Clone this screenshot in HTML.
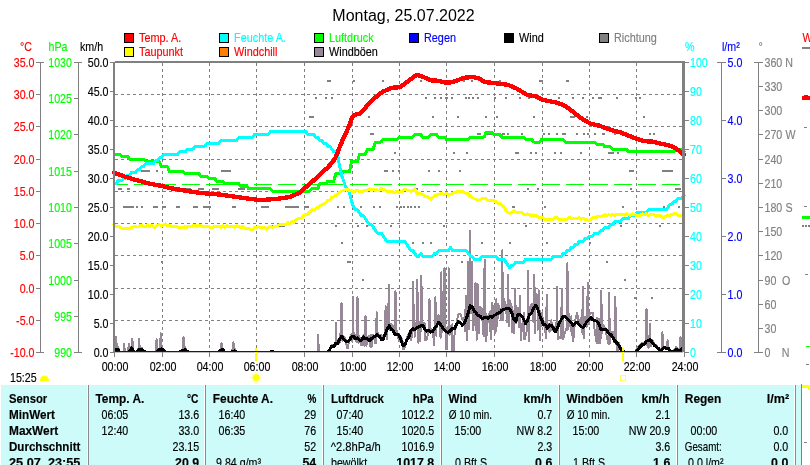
<!DOCTYPE html><html><head><meta charset="utf-8"><title>Wetter</title><style>html,body{margin:0;padding:0;background:#fff;overflow:hidden}svg{display:block;will-change:transform}text{font-family:"Liberation Sans",sans-serif;font-size:12px}.b{font-weight:bold}.e{text-anchor:end}.m{text-anchor:middle}</style></head><body>
<svg width="810" height="465" viewBox="0 0 810 465">
<rect width="810" height="465" fill="#fff"/>
<text x="403.5" y="21" class="m" style="font-size:16px">Montag, 25.07.2022</text>
<rect x="124.5" y="33.5" width="9" height="9" fill="#f00" stroke="#000" shape-rendering="crispEdges"/>
<text transform="translate(139,42) scale(0.905,1)" fill="#f00" stroke="#f00" stroke-width="0.15">Temp. A.</text>
<rect x="124.5" y="47.5" width="9" height="9" fill="#ff0" stroke="#000" shape-rendering="crispEdges"/>
<text transform="translate(139,56) scale(0.905,1)" fill="#f00" stroke="#f00" stroke-width="0.15">Taupunkt</text>
<rect x="219.5" y="33.5" width="9" height="9" fill="#0ff" stroke="#000" shape-rendering="crispEdges"/>
<text transform="translate(234,42) scale(0.905,1)" fill="#0ff" stroke="#0ff" stroke-width="0.15">Feuchte A.</text>
<rect x="219.5" y="47.5" width="9" height="9" fill="#ff8000" stroke="#000" shape-rendering="crispEdges"/>
<text transform="translate(234,56) scale(0.905,1)" fill="#f00" stroke="#f00" stroke-width="0.15">Windchill</text>
<rect x="314.5" y="33.5" width="9" height="9" fill="#0f0" stroke="#000" shape-rendering="crispEdges"/>
<text transform="translate(329,42) scale(0.905,1)" fill="#0f0" stroke="#0f0" stroke-width="0.15">Luftdruck</text>
<rect x="314.5" y="47.5" width="9" height="9" fill="#968896" stroke="#000" shape-rendering="crispEdges"/>
<text transform="translate(329,56) scale(0.905,1)" fill="#000" stroke="#000" stroke-width="0.15">Windböen</text>
<rect x="409.5" y="33.5" width="9" height="9" fill="#00f" stroke="#000" shape-rendering="crispEdges"/>
<text transform="translate(424,42) scale(0.905,1)" fill="#00f" stroke="#00f" stroke-width="0.15">Regen</text>
<rect x="504.5" y="33.5" width="9" height="9" fill="#000" stroke="#000" shape-rendering="crispEdges"/>
<text transform="translate(519,42) scale(0.905,1)" fill="#000" stroke="#000" stroke-width="0.15">Wind</text>
<rect x="599.5" y="33.5" width="9" height="9" fill="#808080" stroke="#000" shape-rendering="crispEdges"/>
<text transform="translate(614,42) scale(0.905,1)" fill="#808080" stroke="#808080" stroke-width="0.15">Richtung</text>
<g shape-rendering="crispEdges">
<line x1="162.5" y1="63" x2="162.5" y2="351" stroke="#808080" stroke-dasharray="3 3"/>
<line x1="209.5" y1="63" x2="209.5" y2="351" stroke="#808080" stroke-dasharray="3 3"/>
<line x1="256.5" y1="63" x2="256.5" y2="351" stroke="#808080" stroke-dasharray="3 3"/>
<line x1="304.5" y1="63" x2="304.5" y2="351" stroke="#808080" stroke-dasharray="3 3"/>
<line x1="352.5" y1="63" x2="352.5" y2="351" stroke="#808080" stroke-dasharray="3 3"/>
<line x1="399.5" y1="63" x2="399.5" y2="351" stroke="#808080" stroke-dasharray="3 3"/>
<line x1="446.5" y1="63" x2="446.5" y2="351" stroke="#808080" stroke-dasharray="3 3"/>
<line x1="494.5" y1="63" x2="494.5" y2="351" stroke="#808080" stroke-dasharray="3 3"/>
<line x1="542.5" y1="63" x2="542.5" y2="351" stroke="#808080" stroke-dasharray="3 3"/>
<line x1="589.5" y1="63" x2="589.5" y2="351" stroke="#808080" stroke-dasharray="3 3"/>
<line x1="636.5" y1="63" x2="636.5" y2="351" stroke="#808080" stroke-dasharray="3 3"/>
<line x1="115" y1="320.5" x2="683" y2="320.5" stroke="#808080" stroke-dasharray="3 3"/>
<line x1="115" y1="288.5" x2="683" y2="288.5" stroke="#808080" stroke-dasharray="3 3"/>
<line x1="115" y1="255.5" x2="683" y2="255.5" stroke="#808080" stroke-dasharray="3 3"/>
<line x1="115" y1="223.5" x2="683" y2="223.5" stroke="#808080" stroke-dasharray="3 3"/>
<line x1="115" y1="191.5" x2="683" y2="191.5" stroke="#808080" stroke-dasharray="3 3"/>
<line x1="115" y1="159.5" x2="683" y2="159.5" stroke="#808080" stroke-dasharray="3 3"/>
<line x1="115" y1="126.5" x2="683" y2="126.5" stroke="#808080" stroke-dasharray="3 3"/>
<line x1="115" y1="94.5" x2="683" y2="94.5" stroke="#808080" stroke-dasharray="3 3"/>
<rect x="115" y="184" width="13" height="1" fill="#0f0"/>
<rect x="134" y="184" width="18" height="1" fill="#0f0"/>
<rect x="158" y="184" width="18" height="1" fill="#0f0"/>
<rect x="182" y="184" width="18" height="1" fill="#0f0"/>
<rect x="206" y="184" width="18" height="1" fill="#0f0"/>
<rect x="230" y="184" width="18" height="1" fill="#0f0"/>
<rect x="254" y="184" width="18" height="1" fill="#0f0"/>
<rect x="278" y="184" width="18" height="1" fill="#0f0"/>
<rect x="302" y="184" width="18" height="1" fill="#0f0"/>
<rect x="326" y="184" width="18" height="1" fill="#0f0"/>
<rect x="350" y="184" width="18" height="1" fill="#0f0"/>
<rect x="374" y="184" width="18" height="1" fill="#0f0"/>
<rect x="398" y="184" width="18" height="1" fill="#0f0"/>
<rect x="422" y="184" width="18" height="1" fill="#0f0"/>
<rect x="446" y="184" width="18" height="1" fill="#0f0"/>
<rect x="470" y="184" width="18" height="1" fill="#0f0"/>
<rect x="494" y="184" width="18" height="1" fill="#0f0"/>
<rect x="518" y="184" width="18" height="1" fill="#0f0"/>
<rect x="542" y="184" width="18" height="1" fill="#0f0"/>
<rect x="566" y="184" width="18" height="1" fill="#0f0"/>
<rect x="590" y="184" width="18" height="1" fill="#0f0"/>
<rect x="614" y="184" width="18" height="1" fill="#0f0"/>
<rect x="638" y="184" width="18" height="1" fill="#0f0"/>
<rect x="662" y="184" width="18" height="1" fill="#0f0"/>
<rect x="141" y="170" width="9" height="2" fill="#808080"/>
<rect x="156" y="170" width="2" height="2" fill="#808080"/>
<rect x="221" y="170" width="10" height="2" fill="#808080"/>
<rect x="384" y="170" width="4" height="2" fill="#808080"/>
<rect x="392" y="170" width="2" height="2" fill="#808080"/>
<rect x="398" y="170" width="2" height="2" fill="#808080"/>
<rect x="428" y="170" width="2" height="2" fill="#808080"/>
<rect x="438" y="170" width="2" height="2" fill="#808080"/>
<rect x="459" y="170" width="2" height="2" fill="#808080"/>
<rect x="629" y="170" width="5" height="2" fill="#808080"/>
<rect x="662" y="170" width="11" height="2" fill="#808080"/>
<rect x="118" y="188" width="4" height="2" fill="#808080"/>
<rect x="127" y="188" width="3" height="2" fill="#808080"/>
<rect x="181" y="188" width="10" height="2" fill="#808080"/>
<rect x="198" y="188" width="6" height="2" fill="#808080"/>
<rect x="212" y="188" width="7" height="2" fill="#808080"/>
<rect x="238" y="188" width="7" height="2" fill="#808080"/>
<rect x="416" y="188" width="2" height="2" fill="#808080"/>
<rect x="527" y="188" width="2" height="2" fill="#808080"/>
<rect x="537" y="188" width="2" height="2" fill="#808080"/>
<rect x="630" y="188" width="2" height="2" fill="#808080"/>
<rect x="675" y="188" width="6" height="2" fill="#808080"/>
<rect x="123" y="206" width="11" height="2" fill="#808080"/>
<rect x="136" y="206" width="2" height="2" fill="#808080"/>
<rect x="141" y="206" width="2" height="2" fill="#808080"/>
<rect x="153" y="206" width="5" height="2" fill="#808080"/>
<rect x="162" y="206" width="4" height="2" fill="#808080"/>
<rect x="176" y="206" width="4" height="2" fill="#808080"/>
<rect x="193" y="206" width="5" height="2" fill="#808080"/>
<rect x="203" y="206" width="8" height="2" fill="#808080"/>
<rect x="232" y="206" width="4" height="2" fill="#808080"/>
<rect x="261" y="206" width="8" height="2" fill="#808080"/>
<rect x="285" y="206" width="14" height="2" fill="#808080"/>
<rect x="304" y="206" width="5" height="2" fill="#808080"/>
<rect x="337" y="206" width="2" height="2" fill="#808080"/>
<rect x="343" y="206" width="2" height="2" fill="#808080"/>
<rect x="360" y="206" width="2" height="2" fill="#808080"/>
<rect x="373" y="206" width="2" height="2" fill="#808080"/>
<rect x="379" y="206" width="2" height="2" fill="#808080"/>
<rect x="396" y="206" width="2" height="2" fill="#808080"/>
<rect x="400" y="206" width="2" height="2" fill="#808080"/>
<rect x="403" y="206" width="2" height="2" fill="#808080"/>
<rect x="407" y="206" width="2" height="2" fill="#808080"/>
<rect x="410" y="206" width="2" height="2" fill="#808080"/>
<rect x="414" y="206" width="2" height="2" fill="#808080"/>
<rect x="418" y="206" width="2" height="2" fill="#808080"/>
<rect x="512" y="206" width="3" height="2" fill="#808080"/>
<rect x="544" y="206" width="2" height="2" fill="#808080"/>
<rect x="622" y="206" width="2" height="2" fill="#808080"/>
<rect x="663" y="206" width="2" height="2" fill="#808080"/>
<rect x="678" y="206" width="2" height="2" fill="#808080"/>
<rect x="270" y="225" width="15" height="2" fill="#808080"/>
<rect x="335" y="225" width="2" height="2" fill="#808080"/>
<rect x="357" y="225" width="2" height="2" fill="#808080"/>
<rect x="366" y="225" width="2" height="2" fill="#808080"/>
<rect x="390" y="225" width="2" height="2" fill="#808080"/>
<rect x="443" y="225" width="2" height="2" fill="#808080"/>
<rect x="525" y="225" width="2" height="2" fill="#808080"/>
<rect x="620" y="225" width="2" height="2" fill="#808080"/>
<rect x="659" y="225" width="2" height="2" fill="#808080"/>
<rect x="341" y="242" width="2" height="2" fill="#808080"/>
<rect x="412" y="242" width="2" height="2" fill="#808080"/>
<rect x="422" y="242" width="2" height="2" fill="#808080"/>
<rect x="430" y="242" width="2" height="2" fill="#808080"/>
<rect x="481" y="242" width="2" height="2" fill="#808080"/>
<rect x="509" y="242" width="2" height="2" fill="#808080"/>
<rect x="546" y="242" width="2" height="2" fill="#808080"/>
<rect x="589" y="242" width="2" height="2" fill="#808080"/>
<rect x="161" y="261" width="2" height="2" fill="#808080"/>
<rect x="347" y="261" width="4" height="2" fill="#808080"/>
<rect x="461" y="261" width="2" height="2" fill="#808080"/>
<rect x="606" y="261" width="2" height="2" fill="#808080"/>
<rect x="362" y="279" width="2" height="2" fill="#808080"/>
<rect x="624" y="279" width="2" height="2" fill="#808080"/>
<rect x="356" y="297" width="2" height="2" fill="#808080"/>
<rect x="634" y="297" width="2" height="2" fill="#808080"/>
<rect x="651" y="297" width="2" height="2" fill="#808080"/>
<rect x="394" y="152" width="2" height="2" fill="#808080"/>
<rect x="453" y="152" width="2" height="2" fill="#808080"/>
<rect x="466" y="152" width="2" height="2" fill="#808080"/>
<rect x="515" y="152" width="4" height="2" fill="#808080"/>
<rect x="530" y="152" width="2" height="2" fill="#808080"/>
<rect x="535" y="152" width="2" height="2" fill="#808080"/>
<rect x="554" y="152" width="2" height="2" fill="#808080"/>
<rect x="560" y="152" width="2" height="2" fill="#808080"/>
<rect x="580" y="152" width="2" height="2" fill="#808080"/>
<rect x="608" y="152" width="6" height="2" fill="#808080"/>
<rect x="617" y="152" width="2" height="2" fill="#808080"/>
<rect x="370" y="133" width="4" height="2" fill="#808080"/>
<rect x="477" y="133" width="2" height="2" fill="#808080"/>
<rect x="479" y="133" width="2" height="2" fill="#808080"/>
<rect x="487" y="133" width="7" height="2" fill="#808080"/>
<rect x="502" y="133" width="3" height="2" fill="#808080"/>
<rect x="507" y="133" width="2" height="2" fill="#808080"/>
<rect x="521" y="133" width="2" height="2" fill="#808080"/>
<rect x="543" y="133" width="2" height="2" fill="#808080"/>
<rect x="548" y="133" width="2" height="2" fill="#808080"/>
<rect x="556" y="133" width="2" height="2" fill="#808080"/>
<rect x="562" y="133" width="4" height="2" fill="#808080"/>
<rect x="576" y="133" width="2" height="2" fill="#808080"/>
<rect x="583" y="133" width="2" height="2" fill="#808080"/>
<rect x="587" y="133" width="2" height="2" fill="#808080"/>
<rect x="594" y="133" width="2" height="2" fill="#808080"/>
<rect x="602" y="133" width="3" height="2" fill="#808080"/>
<rect x="614" y="133" width="2" height="2" fill="#808080"/>
<rect x="649" y="133" width="2" height="2" fill="#808080"/>
<rect x="653" y="133" width="2" height="2" fill="#808080"/>
<rect x="309" y="116" width="5" height="2" fill="#808080"/>
<rect x="368" y="116" width="2" height="2" fill="#808080"/>
<rect x="432" y="116" width="2" height="2" fill="#808080"/>
<rect x="457" y="116" width="2" height="2" fill="#808080"/>
<rect x="485" y="116" width="2" height="2" fill="#808080"/>
<rect x="496" y="116" width="2" height="2" fill="#808080"/>
<rect x="533" y="116" width="2" height="2" fill="#808080"/>
<rect x="570" y="116" width="5" height="2" fill="#808080"/>
<rect x="586" y="116" width="2" height="2" fill="#808080"/>
<rect x="643" y="116" width="2" height="2" fill="#808080"/>
<rect x="315" y="97" width="2" height="2" fill="#808080"/>
<rect x="325" y="97" width="2" height="2" fill="#808080"/>
<rect x="331" y="97" width="2" height="2" fill="#808080"/>
<rect x="425" y="97" width="2" height="2" fill="#808080"/>
<rect x="434" y="97" width="2" height="2" fill="#808080"/>
<rect x="440" y="97" width="2" height="2" fill="#808080"/>
<rect x="445" y="97" width="3" height="2" fill="#808080"/>
<rect x="451" y="97" width="2" height="2" fill="#808080"/>
<rect x="465" y="97" width="2" height="2" fill="#808080"/>
<rect x="468" y="97" width="2" height="2" fill="#808080"/>
<rect x="472" y="97" width="2" height="2" fill="#808080"/>
<rect x="477" y="97" width="2" height="2" fill="#808080"/>
<rect x="494" y="97" width="2" height="2" fill="#808080"/>
<rect x="505" y="97" width="2" height="2" fill="#808080"/>
<rect x="519" y="97" width="2" height="2" fill="#808080"/>
<rect x="528" y="97" width="2" height="2" fill="#808080"/>
<rect x="558" y="97" width="2" height="2" fill="#808080"/>
<rect x="572" y="97" width="2" height="2" fill="#808080"/>
<rect x="582" y="97" width="2" height="2" fill="#808080"/>
<rect x="592" y="97" width="2" height="2" fill="#808080"/>
<rect x="598" y="97" width="4" height="2" fill="#808080"/>
<rect x="616" y="97" width="2" height="2" fill="#808080"/>
<rect x="635" y="97" width="2" height="2" fill="#808080"/>
<rect x="639" y="97" width="2" height="2" fill="#808080"/>
<rect x="327" y="80" width="4" height="2" fill="#808080"/>
<rect x="353" y="80" width="2" height="2" fill="#808080"/>
<rect x="382" y="80" width="2" height="2" fill="#808080"/>
<rect x="420" y="80" width="2" height="2" fill="#808080"/>
<rect x="463" y="80" width="2" height="2" fill="#808080"/>
<rect x="471" y="80" width="2" height="2" fill="#808080"/>
<rect x="499" y="80" width="2" height="2" fill="#808080"/>
<rect x="539" y="80" width="4" height="2" fill="#808080"/>
<rect x="566" y="80" width="3" height="2" fill="#808080"/>
</g>
<clipPath id="cp"><rect x="115" y="62" width="568" height="289"/></clipPath>
<path clip-path="url(#cp)" d="M114.0 350.1 L115.0 348.4 L116.0 348.4 L116.0 337.0 L117.0 348.4 L118.0 347.2 L119.9 352.6 L121.9 352.6 L123.0 352.6 L123.9 352.6 L124.0 343.5 L125.0 352.6 L125.9 352.6 L127.9 352.6 L128.0 351.6 L129.0 343.5 L129.8 350.9 L130.0 351.6 L131.3 346.9 L131.8 345.6 L132.3 338.6 L133.3 348.7 L133.8 351.2 L135.8 352.6 L137.8 350.2 L138.3 350.1 L139.3 339.0 L139.7 350.0 L140.3 350.1 L141.7 347.6 L143.7 350.9 L145.7 352.6 L147.6 352.6 L149.6 352.6 L151.6 352.6 L153.6 352.6 L155.6 352.6 L155.6 351.4 L156.6 339.0 L157.5 350.4 L157.6 351.4 L159.5 350.5 L159.8 348.1 L160.8 333.4 L161.5 346.8 L161.8 348.1 L163.5 349.2 L165.5 352.6 L167.4 352.6 L169.4 352.6 L171.4 352.6 L173.4 352.6 L175.4 352.6 L177.3 352.6 L179.3 352.6 L181.3 350.5 L182.5 349.3 L183.3 348.8 L183.5 337.4 L184.5 348.7 L185.2 347.3 L187.2 351.2 L189.2 352.6 L191.2 352.6 L193.2 352.6 L195.1 352.6 L197.1 352.6 L199.1 352.6 L201.1 352.6 L203.1 352.6 L205.0 352.6 L207.0 352.6 L209.0 352.6 L211.0 352.6 L213.0 352.6 L214.9 352.6 L216.9 352.6 L218.9 352.6 L220.5 350.0 L220.9 350.7 L221.5 343.5 L222.5 350.0 L222.9 348.7 L224.8 352.6 L226.8 352.6 L228.8 352.6 L230.8 352.6 L232.4 349.0 L232.8 349.0 L233.4 342.0 L234.4 349.2 L234.7 349.0 L236.7 352.6 L238.7 352.6 L240.7 352.6 L242.6 352.6 L244.6 352.6 L246.6 352.6 L248.6 352.6 L250.6 352.6 L252.5 352.6 L254.5 352.6 L256.5 352.6 L258.5 352.6 L260.5 352.6 L262.4 352.6 L264.4 352.6 L266.4 352.6 L268.4 352.6 L270.4 352.6 L272.3 351.0 L274.3 352.6 L276.3 352.6 L278.3 352.6 L280.2 352.6 L282.2 352.6 L284.2 352.6 L286.2 352.6 L288.2 352.6 L290.1 352.6 L292.1 352.6 L294.1 352.6 L296.1 352.6 L298.1 352.6 L300.0 352.6 L302.0 352.6 L304.0 352.6 L306.0 352.6 L308.0 352.6 L309.9 352.6 L311.9 352.6 L313.9 352.6 L315.9 352.6 L317.0 352.6 L317.9 352.6 L318.0 334.6 L319.0 352.6 L319.8 352.6 L321.8 352.6 L323.8 352.6 L325.8 352.6 L327.8 352.6 L329.7 350.5 L331.7 344.9 L333.7 344.7 L334.7 346.9 L335.7 345.0 L335.7 322.9 L336.7 345.0 L337.6 340.2 L339.6 343.0 L340.5 333.0 L341.5 303.0 L341.6 332.4 L342.5 341.1 L343.6 336.4 L345.6 339.3 L346.9 348.0 L347.5 346.6 L347.9 348.0 L349.5 338.7 L351.5 334.0 L352.3 341.8 L353.3 297.0 L353.5 332.3 L354.3 339.2 L355.5 334.7 L356.5 341.6 L357.4 341.8 L357.5 297.0 L358.5 343.4 L359.4 336.1 L361.0 345.0 L361.4 344.4 L362.0 345.0 L363.4 335.0 L364.5 346.0 L365.4 342.5 L365.5 315.8 L366.5 345.6 L367.3 336.8 L369.3 335.9 L370.5 347.0 L371.3 334.7 L371.5 347.0 L373.3 335.0 L375.2 342.9 L375.7 343.0 L376.7 312.3 L377.2 330.3 L377.7 333.7 L379.2 335.4 L381.2 335.0 L383.2 337.0 L384.6 333.9 L385.1 329.7 L385.6 306.4 L386.6 339.4 L387.1 325.6 L388.0 320.4 L389.0 285.3 L389.1 320.1 L390.0 330.5 L391.1 323.7 L393.1 326.5 L394.5 333.8 L395.0 329.6 L395.5 291.0 L396.5 329.9 L397.0 330.9 L399.0 341.6 L401.0 336.8 L403.0 342.6 L403.2 349.0 L404.2 349.0 L404.9 346.6 L406.9 337.4 L408.9 333.0 L410.9 340.4 L412.0 336.5 L412.9 323.2 L413.0 281.8 L414.0 324.2 L414.8 336.6 L416.3 322.5 L416.8 322.7 L417.3 279.5 L418.3 342.7 L418.8 322.0 L420.3 341.2 L420.8 318.1 L421.3 276.0 L422.3 324.7 L422.8 322.6 L424.7 323.8 L425.0 340.0 L426.0 340.0 L426.7 339.5 L428.5 331.1 L428.7 326.4 L429.5 299.4 L430.5 327.8 L430.7 329.8 L432.6 329.7 L434.4 345.3 L434.6 322.1 L435.4 297.0 L436.4 335.8 L436.6 323.0 L438.6 315.1 L440.2 332.5 L440.6 337.8 L441.2 272.4 L442.2 332.5 L442.5 321.5 L443.5 326.5 L444.5 268.0 L444.5 326.6 L445.5 326.5 L446.0 349.0 L446.5 327.9 L447.0 349.0 L447.5 326.6 L448.5 326.6 L448.5 268.0 L449.5 335.1 L450.5 326.0 L452.4 324.1 L452.5 351.0 L453.5 351.0 L454.4 335.4 L456.4 323.2 L458.4 314.3 L460.4 313.7 L462.3 319.7 L464.3 317.7 L464.9 331.6 L465.9 295.9 L466.3 311.0 L466.9 339.9 L467.2 335.7 L468.2 262.0 L468.3 309.2 L469.0 315.9 L469.2 329.6 L470.0 231.0 L470.2 303.6 L471.0 304.3 L471.0 313.5 L472.0 262.0 L472.2 297.5 L473.0 330.4 L474.2 319.7 L474.5 324.7 L475.5 283.0 L476.2 302.2 L476.5 331.4 L476.6 340.1 L477.6 284.0 L478.2 308.6 L478.6 333.4 L480.1 306.8 L482.1 309.0 L483.6 336.3 L484.1 311.1 L484.6 259.5 L485.6 318.6 L486.1 340.9 L488.1 316.1 L490.0 312.3 L490.7 339.2 L491.7 303.0 L492.0 313.7 L492.7 329.3 L494.0 306.3 L495.3 333.2 L496.0 330.4 L496.3 299.4 L497.3 326.1 L498.0 303.6 L499.9 309.6 L501.2 320.6 L501.9 303.2 L502.2 250.4 L503.2 320.5 L503.9 298.8 L505.9 305.1 L507.0 321.8 L507.9 298.9 L508.0 274.8 L509.0 326.3 L509.8 300.2 L511.8 307.2 L512.3 332.0 L513.3 332.0 L513.8 316.0 L514.0 332.9 L515.0 288.8 L515.8 313.8 L516.0 322.8 L517.8 307.6 L518.8 327.2 L519.7 311.7 L519.8 295.9 L520.8 340.1 L521.7 330.1 L523.7 313.1 L524.0 339.0 L525.0 339.0 L525.7 335.4 L527.0 329.4 L527.6 316.3 L528.0 271.2 L529.0 341.6 L529.6 308.3 L531.6 303.6 L533.3 321.6 L533.6 301.2 L534.3 274.8 L535.3 332.9 L535.6 292.9 L537.5 300.2 L537.6 329.7 L538.6 290.0 L539.5 310.3 L539.6 340.4 L541.5 312.6 L543.5 320.8 L545.5 333.3 L545.8 337.9 L546.8 294.7 L547.4 321.7 L547.8 325.5 L549.4 331.8 L551.0 330.0 L551.4 320.2 L552.0 330.0 L553.4 326.5 L555.4 328.9 L556.3 331.6 L557.3 286.5 L557.3 326.3 L558.3 339.2 L559.3 336.9 L561.0 337.7 L561.3 314.4 L562.0 288.8 L563.0 339.3 L563.3 338.2 L565.2 331.6 L566.4 328.8 L567.2 330.2 L567.4 263.0 L568.4 328.8 L569.2 313.7 L570.9 331.0 L571.2 316.4 L571.9 331.0 L573.2 341.3 L575.1 320.8 L577.1 312.9 L579.1 323.0 L581.1 318.2 L582.0 332.1 L583.0 286.5 L583.1 332.5 L584.0 338.1 L585.0 316.9 L586.8 326.6 L587.0 318.7 L587.8 283.0 L588.8 323.9 L589.0 315.8 L591.0 313.3 L593.0 313.3 L594.9 332.4 L596.7 343.0 L596.9 318.1 L597.7 343.0 L598.9 318.7 L600.2 342.8 L600.9 334.3 L601.2 291.2 L602.2 332.7 L602.9 324.6 L604.8 328.0 L606.8 335.9 L608.0 342.8 L608.8 344.1 L609.0 292.4 L610.0 342.8 L610.8 331.9 L612.8 331.7 L614.3 341.9 L614.7 340.0 L615.3 297.0 L616.3 341.9 L616.7 346.7 L617.0 351.0 L618.0 351.0 L618.7 342.8 L620.7 349.5 L622.6 350.4 L624.6 352.6 L626.6 352.6 L628.6 352.6 L630.6 352.6 L632.5 352.6 L634.5 352.6 L636.5 349.3 L638.5 345.9 L640.5 344.5 L642.4 343.0 L644.4 342.5 L645.5 341.8 L646.4 339.2 L646.5 308.8 L647.5 346.4 L648.4 347.5 L649.0 346.5 L650.0 324.0 L650.4 346.3 L651.0 346.5 L652.3 339.9 L654.3 344.3 L656.3 344.7 L658.3 349.5 L660.2 349.1 L661.4 348.2 L662.2 348.2 L662.4 332.2 L663.4 348.2 L664.2 348.5 L666.2 347.3 L666.6 347.9 L667.6 340.4 L668.2 347.3 L668.6 347.3 L670.1 352.6 L672.1 352.6 L674.1 350.2 L676.1 346.8 L678.1 349.6 L679.5 348.7 L680.0 348.3 L680.5 337.0 L681.5 348.7 L682.0 350.2 L684.0 352.6" fill="none" stroke="#968896" stroke-width="2" stroke-linejoin="round" shape-rendering="crispEdges"/>
<path clip-path="url(#cp)" d="M114.0 349.6 L116.0 349.8 L118.0 349.0 L119.9 352.6 L121.9 352.6 L123.9 352.6 L125.9 352.6 L127.9 352.6 L129.8 350.9 L131.8 347.9 L133.8 351.4 L135.8 352.4 L137.8 351.4 L139.7 349.3 L141.7 349.2 L143.7 350.8 L145.7 352.6 L147.6 352.6 L149.6 352.6 L151.6 352.6 L153.6 352.6 L155.6 352.6 L157.5 351.3 L159.5 349.5 L161.5 348.9 L163.5 349.8 L165.5 352.6 L167.4 352.6 L169.4 352.6 L171.4 352.6 L173.4 352.6 L175.4 352.6 L177.3 352.6 L179.3 352.1 L181.3 351.0 L183.3 350.1 L185.2 349.7 L187.2 351.3 L189.2 352.6 L191.2 352.6 L193.2 352.6 L195.1 352.6 L197.1 352.6 L199.1 352.6 L201.1 352.6 L203.1 352.6 L205.0 352.6 L207.0 352.6 L209.0 352.6 L211.0 352.6 L213.0 352.6 L214.9 352.6 L216.9 352.6 L218.9 352.2 L220.9 350.1 L222.9 349.2 L224.8 352.4 L226.8 352.6 L228.8 352.6 L230.8 352.6 L232.8 351.2 L234.7 350.9 L236.7 352.3 L238.7 352.6 L240.7 352.6 L242.6 352.6 L244.6 352.6 L246.6 352.6 L248.6 352.6 L250.6 352.6 L252.5 352.6 L254.5 352.6 L256.5 352.6 L258.5 352.6 L260.5 352.6 L262.4 352.6 L264.4 352.6 L266.4 352.6 L268.4 352.2 L270.4 352.1 L272.3 351.0 L274.3 352.5 L276.3 352.6 L278.3 352.6 L280.2 352.6 L282.2 352.6 L284.2 352.6 L286.2 352.6 L288.2 352.6 L290.1 352.6 L292.1 352.6 L294.1 352.6 L296.1 352.6 L298.1 352.6 L300.0 352.6 L302.0 352.6 L304.0 352.6 L306.0 352.6 L308.0 352.6 L309.9 352.6 L311.9 352.6 L313.9 352.6 L315.9 352.6 L317.9 352.6 L319.8 352.6 L321.8 352.6 L323.8 352.6 L325.8 352.6 L327.8 352.3 L329.7 349.6 L331.7 346.3 L333.7 347.0 L335.7 343.2 L337.6 343.4 L339.6 339.0 L341.6 336.5 L343.6 339.0 L345.6 341.1 L347.5 341.8 L349.5 340.0 L351.5 336.8 L353.5 336.4 L355.5 338.5 L357.4 338.0 L359.4 340.1 L361.4 340.1 L363.4 337.0 L365.4 338.8 L367.3 338.9 L369.3 340.6 L371.3 338.7 L373.3 337.2 L375.2 336.3 L377.2 334.8 L379.2 336.2 L381.2 339.2 L383.2 339.3 L385.1 334.4 L387.1 329.5 L389.1 325.9 L391.1 329.2 L393.1 330.6 L395.0 334.6 L397.0 334.1 L399.0 335.1 L401.0 339.9 L403.0 345.7 L404.9 344.9 L406.9 339.9 L408.9 337.1 L410.9 331.0 L412.9 328.8 L414.8 330.0 L416.8 328.1 L418.8 326.6 L420.8 325.8 L422.8 325.2 L424.7 329.1 L426.7 331.2 L428.7 330.4 L430.7 332.1 L432.6 331.7 L434.6 328.5 L436.6 325.9 L438.6 322.2 L440.6 324.6 L442.5 327.4 L444.5 329.9 L446.5 331.9 L448.5 332.4 L450.5 330.4 L452.4 328.6 L454.4 328.6 L456.4 324.7 L458.4 321.7 L460.4 322.5 L462.3 325.3 L464.3 323.1 L466.3 318.3 L468.3 312.8 L470.2 305.6 L472.2 307.1 L474.2 311.1 L476.2 313.0 L478.2 315.8 L480.1 316.1 L482.1 318.7 L484.1 317.7 L486.1 317.8 L488.1 318.1 L490.0 316.5 L492.0 317.3 L494.0 315.5 L496.0 314.5 L498.0 313.4 L499.9 312.5 L501.9 310.0 L503.9 309.3 L505.9 308.7 L507.9 308.0 L509.8 309.0 L511.8 313.0 L513.8 319.5 L515.8 321.3 L517.8 314.3 L519.7 314.3 L521.7 315.9 L523.7 319.1 L525.7 323.7 L527.6 320.1 L529.6 314.5 L531.6 313.0 L533.6 308.3 L535.6 305.1 L537.5 308.2 L539.5 314.7 L541.5 319.4 L543.5 324.7 L545.5 324.7 L547.4 328.3 L549.4 324.8 L551.4 325.3 L553.4 328.2 L555.4 331.9 L557.3 328.3 L559.3 322.8 L561.3 319.6 L563.3 316.4 L565.2 316.8 L567.2 319.0 L569.2 320.4 L571.2 322.9 L573.2 325.4 L575.1 323.3 L577.1 322.0 L579.1 324.7 L581.1 326.6 L583.1 327.4 L585.0 324.9 L587.0 321.1 L589.0 319.5 L591.0 317.9 L593.0 320.1 L594.9 320.7 L596.9 321.3 L598.9 324.1 L600.9 329.8 L602.9 329.1 L604.8 329.1 L606.8 330.5 L608.8 333.4 L610.8 334.5 L612.8 337.4 L614.7 340.8 L616.7 342.6 L618.7 345.1 L620.7 348.9 L622.6 350.9 L624.6 352.1 L626.6 352.6 L628.6 352.6 L630.6 352.6 L632.5 352.6 L634.5 352.6 L636.5 351.1 L638.5 348.9 L640.5 346.4 L642.4 344.6 L644.4 344.0 L646.4 341.4 L648.4 340.3 L650.4 339.7 L652.3 342.8 L654.3 345.3 L656.3 346.9 L658.3 348.3 L660.2 350.8 L662.2 349.1 L664.2 347.4 L666.2 348.5 L668.2 348.2 L670.1 351.5 L672.1 351.8 L674.1 351.0 L676.1 349.4 L678.1 350.1 L680.0 350.0 L682.0 348.8 L684.0 352.0" fill="none" stroke="#000" stroke-width="3" stroke-linejoin="round" shape-rendering="crispEdges"/>
<rect x="115" y="351" width="568" height="1" fill="#00f" shape-rendering="crispEdges"/>
<path d="M114.0 154.3 L116.0 154.3 L118.0 154.3 L119.9 154.3 L121.9 156.7 L123.9 156.7 L125.9 156.7 L127.9 156.7 L129.8 159.2 L131.8 159.2 L133.8 159.2 L135.8 159.2 L137.8 159.2 L139.7 159.2 L141.7 159.2 L143.7 159.2 L145.7 161.6 L147.6 161.6 L149.6 161.6 L151.6 161.6 L153.6 161.6 L155.6 161.6 L157.5 161.6 L159.5 161.6 L161.5 166.5 L163.5 166.5 L165.5 166.5 L167.4 166.5 L169.4 171.4 L171.4 171.4 L173.4 171.4 L175.4 171.4 L177.3 171.4 L179.3 171.4 L181.3 171.4 L183.3 171.4 L185.2 173.9 L187.2 173.9 L189.2 173.9 L191.2 173.9 L193.2 173.9 L195.1 173.9 L197.1 173.9 L199.1 173.9 L201.1 176.4 L203.1 176.4 L205.0 176.4 L207.0 176.4 L209.0 178.8 L211.0 178.8 L213.0 178.8 L214.9 178.8 L216.9 181.3 L218.9 181.3 L220.9 181.3 L222.9 181.3 L224.8 183.7 L226.8 183.7 L228.8 183.7 L230.8 183.7 L232.8 183.7 L234.7 183.7 L236.7 183.7 L238.7 183.7 L240.7 186.2 L242.6 186.2 L244.6 186.2 L246.6 186.2 L248.6 188.6 L250.6 188.6 L252.5 188.6 L254.5 188.6 L256.5 188.6 L258.5 188.6 L260.5 188.6 L262.4 188.6 L264.4 188.6 L266.4 188.6 L268.4 188.6 L270.4 188.6 L272.3 191.1 L274.3 191.1 L276.3 191.1 L278.3 191.1 L280.2 191.1 L282.2 191.1 L284.2 191.1 L286.2 191.1 L288.2 191.1 L290.1 191.1 L292.1 191.1 L294.1 191.1 L296.1 191.1 L298.1 191.1 L300.0 191.1 L302.0 191.1 L304.0 191.1 L306.0 191.1 L308.0 191.1 L309.9 191.1 L311.9 188.6 L313.9 188.6 L315.9 188.6 L317.9 188.6 L319.8 183.7 L321.8 183.7 L323.8 183.7 L325.8 183.7 L327.8 181.3 L329.7 181.3 L331.7 181.3 L333.7 181.3 L335.7 173.9 L337.6 173.9 L339.6 173.9 L341.6 173.9 L343.6 171.4 L345.6 171.4 L347.5 171.4 L349.5 171.4 L351.5 161.6 L353.5 161.6 L355.5 161.6 L357.4 161.6 L359.4 154.3 L361.4 154.3 L363.4 154.3 L365.4 154.3 L367.3 149.3 L369.3 149.3 L371.3 149.3 L373.3 149.3 L375.2 142.0 L377.2 142.0 L379.2 142.0 L381.2 142.0 L383.2 139.5 L385.1 139.5 L387.1 139.5 L389.1 139.5 L391.1 139.5 L393.1 139.5 L395.0 139.5 L397.0 139.5 L399.0 137.1 L401.0 137.1 L403.0 137.1 L404.9 137.1 L406.9 137.1 L408.9 137.1 L410.9 137.1 L412.9 137.1 L414.8 134.6 L416.8 134.6 L418.8 134.6 L420.8 134.6 L422.8 137.1 L424.7 137.1 L426.7 137.1 L428.7 137.1 L430.7 134.6 L432.6 134.6 L434.6 134.6 L436.6 134.6 L438.6 137.1 L440.6 137.1 L442.5 137.1 L444.5 137.1 L446.5 139.5 L448.5 139.5 L450.5 139.5 L452.4 139.5 L454.4 139.5 L456.4 139.5 L458.4 139.5 L460.4 139.5 L462.3 139.5 L464.3 139.5 L466.3 139.5 L468.3 139.5 L470.2 137.1 L472.2 137.1 L474.2 137.1 L476.2 137.1 L478.2 137.1 L480.1 137.1 L482.1 137.1 L484.1 137.1 L486.1 132.2 L488.1 132.2 L490.0 132.2 L492.0 132.2 L494.0 134.6 L496.0 134.6 L498.0 134.6 L499.9 134.6 L501.9 137.1 L503.9 137.1 L505.9 137.1 L507.9 137.1 L509.8 137.1 L511.8 137.1 L513.8 137.1 L515.8 137.1 L517.8 137.1 L519.7 137.1 L521.7 137.1 L523.7 137.1 L525.7 139.5 L527.6 139.5 L529.6 139.5 L531.6 139.5 L533.6 142.0 L535.6 142.0 L537.5 142.0 L539.5 142.0 L541.5 139.5 L543.5 139.5 L545.5 139.5 L547.4 139.5 L549.4 139.5 L551.4 139.5 L553.4 139.5 L555.4 139.5 L557.3 139.5 L559.3 139.5 L561.3 139.5 L563.3 139.5 L565.2 142.0 L567.2 142.0 L569.2 142.0 L571.2 142.0 L573.2 142.0 L575.1 142.0 L577.1 142.0 L579.1 142.0 L581.1 142.0 L583.1 142.0 L585.0 142.0 L587.0 142.0 L589.0 142.0 L591.0 142.0 L593.0 142.0 L594.9 142.0 L596.9 144.4 L598.9 144.4 L600.9 144.4 L602.9 144.4 L604.8 146.9 L606.8 146.9 L608.8 146.9 L610.8 146.9 L612.8 149.3 L614.7 149.3 L616.7 149.3 L618.7 149.3 L620.7 149.3 L622.6 149.3 L624.6 149.3 L626.6 149.3 L628.6 151.8 L630.6 151.8 L632.5 151.8 L634.5 151.8 L636.5 151.8 L638.5 151.8 L640.5 151.8 L642.4 151.8 L644.4 151.8 L646.4 151.8 L648.4 151.8 L650.4 151.8 L652.3 151.8 L654.3 151.8 L656.3 151.8 L658.3 151.8 L660.2 151.8 L662.2 151.8 L664.2 151.8 L666.2 151.8 L668.2 151.8 L670.1 151.8 L672.1 151.8 L674.1 151.8 L676.1 149.3 L678.1 149.3 L680.0 149.3 L682.0 149.3 L684.0 151.8" fill="none" stroke="#0f0" stroke-width="3" stroke-linejoin="round" stroke-linecap="round" shape-rendering="crispEdges"/>
<path d="M114.0 183.8 L116.0 183.8 L118.0 180.9 L119.9 180.9 L121.9 180.9 L123.9 178.0 L125.9 178.0 L127.9 175.1 L129.8 175.1 L131.8 172.2 L133.8 172.2 L135.8 172.2 L137.8 169.3 L139.7 169.3 L141.7 166.4 L143.7 166.4 L145.7 163.5 L147.6 163.5 L149.6 163.5 L151.6 163.5 L153.6 163.5 L155.6 160.6 L157.5 160.6 L159.5 157.7 L161.5 157.7 L163.5 154.8 L165.5 154.8 L167.4 154.8 L169.4 154.8 L171.4 154.8 L173.4 154.8 L175.4 154.8 L177.3 154.8 L179.3 151.9 L181.3 151.9 L183.3 151.9 L185.2 151.9 L187.2 149.0 L189.2 149.0 L191.2 149.0 L193.2 149.0 L195.1 146.1 L197.1 146.1 L199.1 146.1 L201.1 146.1 L203.1 146.1 L205.0 146.1 L207.0 143.2 L209.0 143.2 L211.0 143.2 L213.0 143.2 L214.9 143.2 L216.9 143.2 L218.9 143.2 L220.9 140.3 L222.9 140.3 L224.8 140.3 L226.8 140.3 L228.8 140.3 L230.8 140.3 L232.8 140.3 L234.7 140.3 L236.7 140.3 L238.7 137.4 L240.7 137.4 L242.6 137.4 L244.6 137.4 L246.6 137.4 L248.6 137.4 L250.6 137.4 L252.5 137.4 L254.5 134.5 L256.5 134.5 L258.5 134.5 L260.5 134.5 L262.4 134.5 L264.4 134.5 L266.4 134.5 L268.4 134.5 L270.4 131.6 L272.3 131.6 L274.3 131.6 L276.3 131.6 L278.3 131.6 L280.2 131.6 L282.2 131.6 L284.2 131.6 L286.2 131.6 L288.2 131.6 L290.1 131.6 L292.1 131.6 L294.1 131.6 L296.1 131.6 L298.1 131.6 L300.0 131.6 L302.0 131.6 L304.0 131.6 L306.0 131.6 L308.0 134.5 L309.9 134.5 L311.9 134.5 L313.9 134.5 L315.9 137.4 L317.9 137.4 L319.8 140.3 L321.8 140.3 L323.8 143.2 L325.8 143.2 L327.8 146.1 L329.7 146.1 L331.7 149.0 L333.7 151.9 L335.7 151.9 L337.6 154.8 L339.6 166.4 L341.6 175.1 L343.6 180.9 L345.6 186.7 L347.5 189.6 L349.5 192.5 L351.5 201.2 L353.5 207.0 L355.5 209.9 L357.4 209.9 L359.4 212.8 L361.4 215.7 L363.4 215.7 L365.4 218.6 L367.3 221.5 L369.3 224.4 L371.3 224.4 L373.3 227.3 L375.2 230.2 L377.2 233.1 L379.2 233.1 L381.2 233.1 L383.2 236.0 L385.1 238.9 L387.1 241.8 L389.1 241.8 L391.1 241.8 L393.1 241.8 L395.0 241.8 L397.0 241.8 L399.0 241.8 L401.0 241.8 L403.0 241.8 L404.9 241.8 L406.9 244.7 L408.9 247.6 L410.9 250.5 L412.9 250.5 L414.8 253.4 L416.8 256.3 L418.8 256.3 L420.8 253.4 L422.8 256.3 L424.7 256.3 L426.7 256.3 L428.7 256.3 L430.7 256.3 L432.6 256.3 L434.6 253.4 L436.6 253.4 L438.6 250.5 L440.6 250.5 L442.5 250.5 L444.5 250.5 L446.5 250.5 L448.5 250.5 L450.5 247.6 L452.4 250.5 L454.4 250.5 L456.4 250.5 L458.4 250.5 L460.4 250.5 L462.3 250.5 L464.3 250.5 L466.3 250.5 L468.3 253.4 L470.2 256.3 L472.2 256.3 L474.2 259.2 L476.2 259.2 L478.2 259.2 L480.1 259.2 L482.1 256.3 L484.1 256.3 L486.1 256.3 L488.1 256.3 L490.0 256.3 L492.0 256.3 L494.0 256.3 L496.0 256.3 L498.0 259.2 L499.9 259.2 L501.9 259.2 L503.9 259.2 L505.9 262.1 L507.9 265.0 L509.8 267.9 L511.8 265.0 L513.8 265.0 L515.8 262.1 L517.8 262.1 L519.7 262.1 L521.7 262.1 L523.7 262.1 L525.7 259.2 L527.6 259.2 L529.6 259.2 L531.6 259.2 L533.6 259.2 L535.6 259.2 L537.5 259.2 L539.5 259.2 L541.5 259.2 L543.5 259.2 L545.5 259.2 L547.4 259.2 L549.4 259.2 L551.4 259.2 L553.4 256.3 L555.4 256.3 L557.3 256.3 L559.3 256.3 L561.3 256.3 L563.3 253.4 L565.2 253.4 L567.2 250.5 L569.2 250.5 L571.2 247.6 L573.2 247.6 L575.1 244.7 L577.1 244.7 L579.1 241.8 L581.1 241.8 L583.1 241.8 L585.0 238.9 L587.0 238.9 L589.0 236.0 L591.0 236.0 L593.0 236.0 L594.9 233.1 L596.9 233.1 L598.9 233.1 L600.9 230.2 L602.9 230.2 L604.8 227.3 L606.8 227.3 L608.8 227.3 L610.8 224.4 L612.8 224.4 L614.7 221.5 L616.7 221.5 L618.7 221.5 L620.7 221.5 L622.6 218.6 L624.6 218.6 L626.6 218.6 L628.6 218.6 L630.6 215.7 L632.5 215.7 L634.5 215.7 L636.5 212.8 L638.5 212.8 L640.5 212.8 L642.4 212.8 L644.4 212.8 L646.4 212.8 L648.4 209.9 L650.4 209.9 L652.3 209.9 L654.3 209.9 L656.3 209.9 L658.3 209.9 L660.2 209.9 L662.2 209.9 L664.2 209.9 L666.2 209.9 L668.2 207.0 L670.1 204.1 L672.1 204.1 L674.1 201.2 L676.1 201.2 L678.1 198.3 L680.0 198.3 L682.0 198.3 L684.0 195.4" fill="none" stroke="#0ff" stroke-width="3" stroke-linejoin="round" stroke-linecap="round" shape-rendering="crispEdges"/>
<path d="M114.0 224.6 L116.0 226.8 L118.0 226.7 L119.9 226.9 L121.9 228.6 L123.9 228.5 L125.9 228.9 L127.9 228.1 L129.8 229.1 L131.8 227.3 L133.8 226.9 L135.8 226.6 L137.8 227.2 L139.7 225.7 L141.7 225.2 L143.7 226.6 L145.7 226.3 L147.6 225.0 L149.6 226.5 L151.6 225.3 L153.6 227.3 L155.6 227.0 L157.5 225.1 L159.5 224.9 L161.5 225.4 L163.5 225.1 L165.5 224.0 L167.4 225.3 L169.4 225.3 L171.4 226.3 L173.4 226.5 L175.4 226.4 L177.3 226.9 L179.3 227.9 L181.3 227.5 L183.3 227.4 L185.2 226.7 L187.2 227.3 L189.2 226.0 L191.2 226.7 L193.2 225.4 L195.1 225.0 L197.1 226.3 L199.1 225.6 L201.1 225.8 L203.1 226.6 L205.0 226.0 L207.0 226.7 L209.0 226.6 L211.0 227.9 L213.0 227.4 L214.9 226.4 L216.9 226.3 L218.9 226.3 L220.9 227.4 L222.9 225.6 L224.8 227.1 L226.8 225.8 L228.8 227.0 L230.8 226.2 L232.8 226.2 L234.7 227.1 L236.7 225.8 L238.7 226.7 L240.7 227.4 L242.6 226.6 L244.6 228.4 L246.6 228.7 L248.6 228.6 L250.6 229.7 L252.5 229.8 L254.5 227.6 L256.5 227.7 L258.5 226.8 L260.5 227.8 L262.4 227.3 L264.4 227.1 L266.4 229.0 L268.4 227.7 L270.4 226.4 L272.3 227.4 L274.3 226.5 L276.3 226.4 L278.3 225.3 L280.2 224.5 L282.2 224.1 L284.2 224.8 L286.2 224.5 L288.2 222.7 L290.1 223.6 L292.1 221.1 L294.1 222.2 L296.1 219.8 L298.1 218.6 L300.0 219.0 L302.0 217.4 L304.0 215.0 L306.0 214.7 L308.0 214.1 L309.9 212.1 L311.9 209.8 L313.9 210.4 L315.9 208.8 L317.9 207.2 L319.8 205.6 L321.8 204.8 L323.8 204.1 L325.8 202.6 L327.8 200.3 L329.7 199.8 L331.7 197.4 L333.7 196.8 L335.7 195.5 L337.6 194.0 L339.6 192.2 L341.6 191.2 L343.6 190.5 L345.6 189.9 L347.5 189.3 L349.5 190.7 L351.5 190.2 L353.5 192.1 L355.5 191.0 L357.4 190.5 L359.4 192.0 L361.4 191.9 L363.4 191.0 L365.4 190.4 L367.3 190.4 L369.3 188.8 L371.3 189.7 L373.3 189.0 L375.2 190.5 L377.2 189.7 L379.2 190.3 L381.2 188.3 L383.2 189.2 L385.1 190.0 L387.1 191.4 L389.1 191.7 L391.1 191.7 L393.1 192.2 L395.0 192.3 L397.0 191.4 L399.0 192.1 L401.0 191.8 L403.0 190.8 L404.9 189.2 L406.9 189.9 L408.9 190.7 L410.9 191.3 L412.9 190.5 L414.8 188.7 L416.8 193.1 L418.8 193.2 L420.8 193.7 L422.8 194.4 L424.7 196.8 L426.7 196.4 L428.7 197.6 L430.7 199.3 L432.6 197.2 L434.6 196.2 L436.6 194.8 L438.6 195.0 L440.6 194.0 L442.5 193.7 L444.5 194.7 L446.5 193.4 L448.5 195.2 L450.5 194.5 L452.4 193.1 L454.4 192.6 L456.4 192.0 L458.4 191.3 L460.4 192.1 L462.3 191.3 L464.3 192.2 L466.3 193.3 L468.3 193.7 L470.2 196.3 L472.2 197.6 L474.2 198.7 L476.2 199.5 L478.2 200.4 L480.1 199.4 L482.1 198.7 L484.1 198.3 L486.1 198.5 L488.1 200.1 L490.0 200.4 L492.0 201.0 L494.0 200.7 L496.0 201.5 L498.0 203.7 L499.9 203.8 L501.9 205.2 L503.9 206.7 L505.9 210.4 L507.9 212.4 L509.8 213.5 L511.8 212.5 L513.8 210.8 L515.8 212.0 L517.8 212.1 L519.7 212.1 L521.7 212.2 L523.7 214.3 L525.7 214.6 L527.6 214.0 L529.6 215.3 L531.6 214.9 L533.6 216.2 L535.6 215.6 L537.5 216.4 L539.5 218.0 L541.5 217.6 L543.5 217.6 L545.5 219.7 L547.4 219.8 L549.4 219.5 L551.4 219.5 L553.4 219.0 L555.4 217.6 L557.3 217.7 L559.3 219.5 L561.3 219.3 L563.3 219.8 L565.2 219.3 L567.2 219.2 L569.2 217.3 L571.2 218.2 L573.2 218.5 L575.1 218.6 L577.1 218.4 L579.1 217.7 L581.1 219.6 L583.1 218.1 L585.0 219.7 L587.0 219.9 L589.0 220.1 L591.0 219.4 L593.0 217.5 L594.9 217.7 L596.9 216.8 L598.9 216.7 L600.9 216.8 L602.9 215.5 L604.8 214.8 L606.8 215.7 L608.8 214.5 L610.8 215.2 L612.8 214.6 L614.7 215.6 L616.7 214.5 L618.7 214.4 L620.7 214.9 L622.6 214.6 L624.6 215.3 L626.6 213.7 L628.6 215.0 L630.6 215.0 L632.5 213.8 L634.5 214.7 L636.5 215.5 L638.5 215.3 L640.5 215.2 L642.4 213.8 L644.4 214.4 L646.4 213.8 L648.4 215.6 L650.4 214.2 L652.3 214.8 L654.3 214.7 L656.3 216.1 L658.3 215.7 L660.2 215.4 L662.2 217.2 L664.2 217.5 L666.2 215.9 L668.2 215.9 L670.1 215.1 L672.1 214.7 L674.1 213.6 L676.1 213.5 L678.1 215.2 L680.0 215.7 L682.0 215.9 L684.0 215.1" fill="none" stroke="#ff0" stroke-width="3" stroke-linejoin="round" stroke-linecap="round" shape-rendering="crispEdges"/>
<path d="M114.0 172.9 L116.0 173.6 L118.0 174.3 L119.9 174.9 L121.9 175.6 L123.9 176.3 L125.9 177.0 L127.9 177.5 L129.8 178.1 L131.8 178.7 L133.8 179.3 L135.8 179.9 L137.8 180.5 L139.7 181.0 L141.7 181.5 L143.7 182.0 L145.7 182.6 L147.6 183.1 L149.6 183.6 L151.6 184.0 L153.6 184.4 L155.6 184.8 L157.5 185.1 L159.5 185.5 L161.5 185.9 L163.5 186.4 L165.5 186.9 L167.4 187.4 L169.4 187.8 L171.4 188.3 L173.4 188.7 L175.4 189.0 L177.3 189.4 L179.3 189.7 L181.3 190.0 L183.3 190.3 L185.2 190.6 L187.2 191.0 L189.2 191.3 L191.2 191.6 L193.2 191.9 L195.1 192.2 L197.1 192.5 L199.1 192.7 L201.1 192.9 L203.1 193.1 L205.0 193.3 L207.0 193.5 L209.0 193.7 L211.0 193.8 L213.0 194.0 L214.9 194.1 L216.9 194.3 L218.9 194.4 L220.9 194.7 L222.9 195.0 L224.8 195.3 L226.8 195.5 L228.8 195.8 L230.8 196.1 L232.8 196.4 L234.7 196.7 L236.7 197.0 L238.7 197.3 L240.7 197.6 L242.6 197.9 L244.6 198.2 L246.6 198.4 L248.6 198.7 L250.6 198.9 L252.5 199.1 L254.5 199.4 L256.5 199.7 L258.5 199.9 L260.5 199.8 L262.4 199.8 L264.4 199.7 L266.4 199.7 L268.4 199.5 L270.4 199.4 L272.3 199.2 L274.3 199.0 L276.3 198.9 L278.3 198.7 L280.2 198.4 L282.2 198.1 L284.2 197.8 L286.2 197.5 L288.2 197.2 L290.1 196.8 L292.1 196.0 L294.1 195.1 L296.1 194.3 L298.1 193.4 L300.0 192.3 L302.0 190.6 L304.0 188.8 L306.0 187.0 L308.0 185.2 L309.9 183.5 L311.9 181.9 L313.9 180.2 L315.9 178.6 L317.9 176.7 L319.8 174.7 L321.8 172.8 L323.8 170.9 L325.8 169.2 L327.8 167.4 L329.7 165.3 L331.7 163.1 L333.7 160.8 L335.7 157.1 L337.6 152.7 L339.6 147.3 L341.6 142.5 L343.6 137.8 L345.6 133.6 L347.5 129.6 L349.5 124.8 L351.5 118.8 L353.5 115.9 L355.5 114.7 L357.4 114.2 L359.4 113.8 L361.4 112.3 L363.4 110.0 L365.4 107.7 L367.3 105.4 L369.3 103.4 L371.3 101.5 L373.3 99.5 L375.2 97.7 L377.2 96.1 L379.2 94.5 L381.2 92.9 L383.2 91.6 L385.1 90.7 L387.1 89.9 L389.1 89.0 L391.1 88.2 L393.1 87.7 L395.0 87.5 L397.0 87.4 L399.0 87.2 L401.0 86.5 L403.0 85.1 L404.9 83.6 L406.9 82.2 L408.9 80.7 L410.9 79.2 L412.9 77.7 L414.8 76.2 L416.8 74.9 L418.8 75.4 L420.8 75.9 L422.8 76.7 L424.7 77.6 L426.7 78.5 L428.7 79.4 L430.7 80.3 L432.6 80.4 L434.6 80.5 L436.6 80.7 L438.6 80.8 L440.6 81.3 L442.5 81.9 L444.5 82.5 L446.5 82.6 L448.5 82.5 L450.5 82.4 L452.4 82.2 L454.4 81.4 L456.4 80.7 L458.4 79.9 L460.4 79.2 L462.3 78.4 L464.3 77.9 L466.3 77.6 L468.3 77.4 L470.2 77.1 L472.2 76.9 L474.2 77.2 L476.2 77.7 L478.2 78.2 L480.1 79.2 L482.1 80.5 L484.1 81.7 L486.1 82.2 L488.1 82.4 L490.0 82.6 L492.0 82.9 L494.0 83.1 L496.0 83.3 L498.0 83.6 L499.9 83.8 L501.9 84.1 L503.9 84.3 L505.9 84.5 L507.9 84.8 L509.8 85.6 L511.8 86.5 L513.8 87.4 L515.8 88.2 L517.8 89.2 L519.7 90.4 L521.7 91.6 L523.7 92.9 L525.7 94.1 L527.6 95.0 L529.6 95.3 L531.6 95.7 L533.6 96.0 L535.6 96.4 L537.5 97.2 L539.5 98.1 L541.5 99.1 L543.5 100.0 L545.5 100.4 L547.4 100.8 L549.4 101.2 L551.4 101.6 L553.4 102.0 L555.4 102.4 L557.3 103.1 L559.3 103.7 L561.3 104.4 L563.3 105.0 L565.2 106.0 L567.2 107.5 L569.2 109.0 L571.2 110.5 L573.2 111.9 L575.1 113.4 L577.1 115.0 L579.1 116.5 L581.1 118.0 L583.1 119.5 L585.0 120.6 L587.0 121.7 L589.0 122.8 L591.0 123.7 L593.0 124.2 L594.9 124.7 L596.9 125.1 L598.9 125.6 L600.9 126.3 L602.9 127.0 L604.8 127.7 L606.8 128.4 L608.8 129.1 L610.8 129.8 L612.8 130.4 L614.7 130.9 L616.7 131.4 L618.7 131.9 L620.7 132.4 L622.6 133.2 L624.6 134.0 L626.6 134.8 L628.6 135.7 L630.6 136.5 L632.5 137.3 L634.5 138.1 L636.5 138.7 L638.5 139.3 L640.5 139.9 L642.4 140.5 L644.4 141.0 L646.4 141.2 L648.4 141.4 L650.4 141.5 L652.3 141.7 L654.3 142.0 L656.3 142.5 L658.3 143.0 L660.2 143.5 L662.2 143.9 L664.2 144.4 L666.2 144.9 L668.2 145.4 L670.1 145.9 L672.1 146.4 L674.1 147.5 L676.1 148.8 L678.1 150.0 L680.0 151.6 L682.0 153.1 L684.0 154.7" fill="none" stroke="#f00" stroke-width="4.4" stroke-linejoin="round" stroke-linecap="round" shape-rendering="crispEdges"/>
<g shape-rendering="crispEdges" fill="#808080">
<rect x="115" y="61" width="570" height="2"/>
<rect x="113" y="62" width="2" height="290"/>
<rect x="682" y="62" width="3" height="290"/>
<rect x="115" y="352" width="568" height="1" fill="#c0c0c0"/>
<rect x="114" y="352" width="1" height="5"/>
<rect x="162" y="352" width="1" height="5"/>
<rect x="209" y="352" width="1" height="5"/>
<rect x="256" y="352" width="1" height="5"/>
<rect x="304" y="352" width="1" height="5"/>
<rect x="352" y="352" width="1" height="5"/>
<rect x="399" y="352" width="1" height="5"/>
<rect x="446" y="352" width="1" height="5"/>
<rect x="494" y="352" width="1" height="5"/>
<rect x="542" y="352" width="1" height="5"/>
<rect x="589" y="352" width="1" height="5"/>
<rect x="636" y="352" width="1" height="5"/>
<rect x="684" y="352" width="1" height="5"/>
<rect x="110" y="352" width="4" height="1"/>
<rect x="110" y="323" width="4" height="1"/>
<rect x="110" y="294" width="4" height="1"/>
<rect x="110" y="265" width="4" height="1"/>
<rect x="110" y="236" width="4" height="1"/>
<rect x="110" y="207" width="4" height="1"/>
<rect x="110" y="178" width="4" height="1"/>
<rect x="110" y="149" width="4" height="1"/>
<rect x="110" y="120" width="4" height="1"/>
<rect x="110" y="91" width="4" height="1"/>
<rect x="110" y="62" width="4" height="1"/>
<rect x="685" y="352" width="4" height="1"/>
<rect x="685" y="323" width="4" height="1"/>
<rect x="685" y="294" width="4" height="1"/>
<rect x="685" y="265" width="4" height="1"/>
<rect x="685" y="236" width="4" height="1"/>
<rect x="685" y="207" width="4" height="1"/>
<rect x="685" y="178" width="4" height="1"/>
<rect x="685" y="149" width="4" height="1"/>
<rect x="685" y="120" width="4" height="1"/>
<rect x="685" y="91" width="4" height="1"/>
<rect x="685" y="62" width="4" height="1"/>
<rect x="40" y="62" width="1" height="291"/>
<rect x="36" y="352" width="8" height="1"/>
<rect x="36" y="320" width="4" height="1"/>
<rect x="36" y="288" width="4" height="1"/>
<rect x="36" y="255" width="4" height="1"/>
<rect x="36" y="223" width="4" height="1"/>
<rect x="36" y="191" width="4" height="1"/>
<rect x="36" y="159" width="4" height="1"/>
<rect x="36" y="126" width="4" height="1"/>
<rect x="36" y="94" width="4" height="1"/>
<rect x="36" y="62" width="8" height="1"/>
<rect x="78" y="62" width="1" height="291"/>
<rect x="74" y="352" width="8" height="1"/>
<rect x="74" y="316" width="4" height="1"/>
<rect x="74" y="280" width="4" height="1"/>
<rect x="74" y="243" width="4" height="1"/>
<rect x="74" y="207" width="4" height="1"/>
<rect x="74" y="171" width="4" height="1"/>
<rect x="74" y="134" width="4" height="1"/>
<rect x="74" y="98" width="4" height="1"/>
<rect x="74" y="62" width="8" height="1"/>
<rect x="721" y="62" width="1" height="291"/>
<rect x="717" y="352" width="9" height="1"/>
<rect x="721" y="294" width="5" height="1"/>
<rect x="721" y="236" width="5" height="1"/>
<rect x="721" y="178" width="5" height="1"/>
<rect x="721" y="120" width="5" height="1"/>
<rect x="717" y="62" width="9" height="1"/>
<rect x="758" y="62" width="1" height="291"/>
<rect x="754" y="352" width="9" height="1"/>
<rect x="758" y="328" width="5" height="1"/>
<rect x="758" y="304" width="5" height="1"/>
<rect x="758" y="280" width="5" height="1"/>
<rect x="758" y="255" width="5" height="1"/>
<rect x="758" y="231" width="5" height="1"/>
<rect x="758" y="207" width="5" height="1"/>
<rect x="758" y="183" width="5" height="1"/>
<rect x="758" y="159" width="5" height="1"/>
<rect x="758" y="134" width="5" height="1"/>
<rect x="758" y="110" width="5" height="1"/>
<rect x="758" y="86" width="5" height="1"/>
<rect x="754" y="62" width="9" height="1"/>
</g>
<text transform="translate(34.5,357) scale(0.89,1)" fill="#f00" stroke="#f00" stroke-width="0.15" text-anchor="end">-10.0</text>
<text transform="translate(34.5,325) scale(0.89,1)" fill="#f00" stroke="#f00" stroke-width="0.15" text-anchor="end">-5.0</text>
<text transform="translate(34.5,293) scale(0.89,1)" fill="#f00" stroke="#f00" stroke-width="0.15" text-anchor="end">0.0</text>
<text transform="translate(34.5,260) scale(0.89,1)" fill="#f00" stroke="#f00" stroke-width="0.15" text-anchor="end">5.0</text>
<text transform="translate(34.5,228) scale(0.89,1)" fill="#f00" stroke="#f00" stroke-width="0.15" text-anchor="end">10.0</text>
<text transform="translate(34.5,196) scale(0.89,1)" fill="#f00" stroke="#f00" stroke-width="0.15" text-anchor="end">15.0</text>
<text transform="translate(34.5,164) scale(0.89,1)" fill="#f00" stroke="#f00" stroke-width="0.15" text-anchor="end">20.0</text>
<text transform="translate(34.5,131) scale(0.89,1)" fill="#f00" stroke="#f00" stroke-width="0.15" text-anchor="end">25.0</text>
<text transform="translate(34.5,99) scale(0.89,1)" fill="#f00" stroke="#f00" stroke-width="0.15" text-anchor="end">30.0</text>
<text transform="translate(34.5,67) scale(0.89,1)" fill="#f00" stroke="#f00" stroke-width="0.15" text-anchor="end">35.0</text>
<text transform="translate(72,357) scale(0.89,1)" fill="#0f0" stroke="#0f0" stroke-width="0.15" text-anchor="end">990</text>
<text transform="translate(72,321) scale(0.89,1)" fill="#0f0" stroke="#0f0" stroke-width="0.15" text-anchor="end">995</text>
<text transform="translate(72,285) scale(0.89,1)" fill="#0f0" stroke="#0f0" stroke-width="0.15" text-anchor="end">1000</text>
<text transform="translate(72,248) scale(0.89,1)" fill="#0f0" stroke="#0f0" stroke-width="0.15" text-anchor="end">1005</text>
<text transform="translate(72,212) scale(0.89,1)" fill="#0f0" stroke="#0f0" stroke-width="0.15" text-anchor="end">1010</text>
<text transform="translate(72,176) scale(0.89,1)" fill="#0f0" stroke="#0f0" stroke-width="0.15" text-anchor="end">1015</text>
<text transform="translate(72,139) scale(0.89,1)" fill="#0f0" stroke="#0f0" stroke-width="0.15" text-anchor="end">1020</text>
<text transform="translate(72,103) scale(0.89,1)" fill="#0f0" stroke="#0f0" stroke-width="0.15" text-anchor="end">1025</text>
<text transform="translate(72,67) scale(0.89,1)" fill="#0f0" stroke="#0f0" stroke-width="0.15" text-anchor="end">1030</text>
<text transform="translate(108.5,357) scale(0.89,1)" stroke="#000" stroke-width="0.15" text-anchor="end">0.0</text>
<text transform="translate(690,357) scale(0.89,1)" fill="#0ff" stroke="#0ff" stroke-width="0.15">0</text>
<text transform="translate(108.5,328) scale(0.89,1)" stroke="#000" stroke-width="0.15" text-anchor="end">5.0</text>
<text transform="translate(690,328) scale(0.89,1)" fill="#0ff" stroke="#0ff" stroke-width="0.15">10</text>
<text transform="translate(108.5,299) scale(0.89,1)" stroke="#000" stroke-width="0.15" text-anchor="end">10.0</text>
<text transform="translate(690,299) scale(0.89,1)" fill="#0ff" stroke="#0ff" stroke-width="0.15">20</text>
<text transform="translate(108.5,270) scale(0.89,1)" stroke="#000" stroke-width="0.15" text-anchor="end">15.0</text>
<text transform="translate(690,270) scale(0.89,1)" fill="#0ff" stroke="#0ff" stroke-width="0.15">30</text>
<text transform="translate(108.5,241) scale(0.89,1)" stroke="#000" stroke-width="0.15" text-anchor="end">20.0</text>
<text transform="translate(690,241) scale(0.89,1)" fill="#0ff" stroke="#0ff" stroke-width="0.15">40</text>
<text transform="translate(108.5,212) scale(0.89,1)" stroke="#000" stroke-width="0.15" text-anchor="end">25.0</text>
<text transform="translate(690,212) scale(0.89,1)" fill="#0ff" stroke="#0ff" stroke-width="0.15">50</text>
<text transform="translate(108.5,183) scale(0.89,1)" stroke="#000" stroke-width="0.15" text-anchor="end">30.0</text>
<text transform="translate(690,183) scale(0.89,1)" fill="#0ff" stroke="#0ff" stroke-width="0.15">60</text>
<text transform="translate(108.5,154) scale(0.89,1)" stroke="#000" stroke-width="0.15" text-anchor="end">35.0</text>
<text transform="translate(690,154) scale(0.89,1)" fill="#0ff" stroke="#0ff" stroke-width="0.15">70</text>
<text transform="translate(108.5,125) scale(0.89,1)" stroke="#000" stroke-width="0.15" text-anchor="end">40.0</text>
<text transform="translate(690,125) scale(0.89,1)" fill="#0ff" stroke="#0ff" stroke-width="0.15">80</text>
<text transform="translate(108.5,96) scale(0.89,1)" stroke="#000" stroke-width="0.15" text-anchor="end">45.0</text>
<text transform="translate(690,96) scale(0.89,1)" fill="#0ff" stroke="#0ff" stroke-width="0.15">90</text>
<text transform="translate(108.5,67) scale(0.89,1)" stroke="#000" stroke-width="0.15" text-anchor="end">50.0</text>
<text transform="translate(690,67) scale(0.89,1)" fill="#0ff" stroke="#0ff" stroke-width="0.15">100</text>
<text transform="translate(727.5,357) scale(0.89,1)" fill="#00f" stroke="#00f" stroke-width="0.15">0.0</text>
<text transform="translate(727.5,299) scale(0.89,1)" fill="#00f" stroke="#00f" stroke-width="0.15">1.0</text>
<text transform="translate(727.5,241) scale(0.89,1)" fill="#00f" stroke="#00f" stroke-width="0.15">2.0</text>
<text transform="translate(727.5,183) scale(0.89,1)" fill="#00f" stroke="#00f" stroke-width="0.15">3.0</text>
<text transform="translate(727.5,125) scale(0.89,1)" fill="#00f" stroke="#00f" stroke-width="0.15">4.0</text>
<text transform="translate(727.5,67) scale(0.89,1)" fill="#00f" stroke="#00f" stroke-width="0.15">5.0</text>
<text transform="translate(764.5,357) scale(0.89,1)" fill="#808080" stroke="#808080" stroke-width="0.15">0</text>
<text transform="translate(781.8,357) scale(0.89,1)" fill="#808080" stroke="#808080" stroke-width="0.15">N</text>
<text transform="translate(764.5,333) scale(0.89,1)" fill="#808080" stroke="#808080" stroke-width="0.15">30</text>
<text transform="translate(764.5,309) scale(0.89,1)" fill="#808080" stroke="#808080" stroke-width="0.15">60</text>
<text transform="translate(764.5,285) scale(0.89,1)" fill="#808080" stroke="#808080" stroke-width="0.15">90</text>
<text transform="translate(782.1,285) scale(0.89,1)" fill="#808080" stroke="#808080" stroke-width="0.15">O</text>
<text transform="translate(764.5,260) scale(0.89,1)" fill="#808080" stroke="#808080" stroke-width="0.15">120</text>
<text transform="translate(764.5,236) scale(0.89,1)" fill="#808080" stroke="#808080" stroke-width="0.15">150</text>
<text transform="translate(764.5,212) scale(0.89,1)" fill="#808080" stroke="#808080" stroke-width="0.15">180</text>
<text transform="translate(785.4,212) scale(0.89,1)" fill="#808080" stroke="#808080" stroke-width="0.15">S</text>
<text transform="translate(764.5,188) scale(0.89,1)" fill="#808080" stroke="#808080" stroke-width="0.15">210</text>
<text transform="translate(764.5,164) scale(0.89,1)" fill="#808080" stroke="#808080" stroke-width="0.15">240</text>
<text transform="translate(764.5,139) scale(0.89,1)" fill="#808080" stroke="#808080" stroke-width="0.15">270</text>
<text transform="translate(785.4,139) scale(0.89,1)" fill="#808080" stroke="#808080" stroke-width="0.15">W</text>
<text transform="translate(764.5,115) scale(0.89,1)" fill="#808080" stroke="#808080" stroke-width="0.15">300</text>
<text transform="translate(764.5,91) scale(0.89,1)" fill="#808080" stroke="#808080" stroke-width="0.15">330</text>
<text transform="translate(764.5,67) scale(0.89,1)" fill="#808080" stroke="#808080" stroke-width="0.15">360</text>
<text transform="translate(785.2,67) scale(0.89,1)" fill="#808080" stroke="#808080" stroke-width="0.15">N</text>
<text transform="translate(20,51) scale(0.89,1)" fill="#f00" stroke="#f00" stroke-width="0.15">°C</text><text transform="translate(48.5,51) scale(0.89,1)" fill="#0f0" stroke="#0f0" stroke-width="0.15">hPa</text><text transform="translate(80,51) scale(0.89,1)" stroke="#000" stroke-width="0.15">km/h</text>
<text transform="translate(685,51) scale(0.89,1)" fill="#0ff" stroke="#0ff" stroke-width="0.15">%</text><text transform="translate(722,51) scale(0.89,1)" fill="#00f" stroke="#00f" stroke-width="0.15">l/m²</text><text transform="translate(758.5,51) scale(0.89,1)" fill="#808080" stroke="#808080" stroke-width="0.15">°</text>
<text transform="translate(115,371) scale(0.89,1)" stroke="#000" stroke-width="0.15" text-anchor="middle">00:00</text>
<text transform="translate(163,371) scale(0.89,1)" stroke="#000" stroke-width="0.15" text-anchor="middle">02:00</text>
<text transform="translate(210,371) scale(0.89,1)" stroke="#000" stroke-width="0.15" text-anchor="middle">04:00</text>
<text transform="translate(257,371) scale(0.89,1)" stroke="#000" stroke-width="0.15" text-anchor="middle">06:00</text>
<text transform="translate(305,371) scale(0.89,1)" stroke="#000" stroke-width="0.15" text-anchor="middle">08:00</text>
<text transform="translate(353,371) scale(0.89,1)" stroke="#000" stroke-width="0.15" text-anchor="middle">10:00</text>
<text transform="translate(400,371) scale(0.89,1)" stroke="#000" stroke-width="0.15" text-anchor="middle">12:00</text>
<text transform="translate(447,371) scale(0.89,1)" stroke="#000" stroke-width="0.15" text-anchor="middle">14:00</text>
<text transform="translate(495,371) scale(0.89,1)" stroke="#000" stroke-width="0.15" text-anchor="middle">16:00</text>
<text transform="translate(543,371) scale(0.89,1)" stroke="#000" stroke-width="0.15" text-anchor="middle">18:00</text>
<text transform="translate(590,371) scale(0.89,1)" stroke="#000" stroke-width="0.15" text-anchor="middle">20:00</text>
<text transform="translate(637,371) scale(0.89,1)" stroke="#000" stroke-width="0.15" text-anchor="middle">22:00</text>
<text transform="translate(685,371) scale(0.89,1)" stroke="#000" stroke-width="0.15" text-anchor="middle">24:00</text>
<g shape-rendering="crispEdges"><rect x="255" y="348" width="2" height="3" fill="#ff0"/><rect x="255" y="352" width="2" height="9" fill="#ff0"/><rect x="622" y="348" width="2" height="3" fill="#ff0"/><rect x="622" y="352" width="2" height="9" fill="#ff0"/>
<rect x="620.5" y="375.5" width="5" height="5" fill="none" stroke="#ffff60"/></g>
<g stroke="#ffff90" stroke-width="1" fill="none"><path d="M251.6 373.2L260.4 382M260.4 373.2L251.6 382M256 371.3V383.9M249.7 377.6H262.3"/><circle cx="256" cy="377.6" r="5" stroke="#ffffb0" stroke-width="0.8"/></g><circle cx="256" cy="377.6" r="3.4" fill="#ff0"/>
<text transform="translate(10,382) scale(0.89,1)" stroke="#000" stroke-width="0.15">15:25</text><path d="M39.8 381.2a4.6 5.8 0 0 1 9.2 0z" fill="#ff0"/>
<g shape-rendering="crispEdges"><text transform="translate(802.5,42) scale(0.89,1)" fill="#f00" stroke="#f00" stroke-width="0.15">W</text><rect x="802" y="47" width="8" height="2" fill="#808080"/>
<rect x="802" y="96" width="8" height="4" fill="#f00"/><rect x="804" y="95" width="4" height="1" fill="#f00"/>
<rect x="804" y="127" width="3" height="1" fill="#808080"/><rect x="804" y="206" width="3" height="1" fill="#808080"/><rect x="802" y="216" width="8" height="3" fill="#0f0"/>
<rect x="802" y="225" width="2" height="2" fill="#808080"/><rect x="805" y="225" width="2" height="2" fill="#808080"/><rect x="808" y="225" width="2" height="2" fill="#808080"/>
<rect x="805" y="274" width="3" height="1" fill="#808080"/><rect x="806" y="346" width="4" height="1" fill="#0f0"/><rect x="806" y="364" width="3" height="1" fill="#808080"/><rect x="804" y="442" width="3" height="1" fill="#808080"/>
<path d="M802 386.5H808Q810 387 810 390" fill="none" stroke="#ff0" stroke-width="3"/></g>
<g shape-rendering="crispEdges"><rect x="1" y="385" width="801" height="80" fill="#ccfbf9"/>
<rect x="87" y="385" width="1" height="80" fill="#fff"/><rect x="88" y="385" width="1" height="80" fill="#8a8a8a"/>
<rect x="204" y="385" width="1" height="80" fill="#fff"/><rect x="205" y="385" width="1" height="80" fill="#8a8a8a"/>
<rect x="322" y="385" width="1" height="80" fill="#fff"/><rect x="323" y="385" width="1" height="80" fill="#8a8a8a"/>
<rect x="440" y="385" width="1" height="80" fill="#fff"/><rect x="441" y="385" width="1" height="80" fill="#8a8a8a"/>
<rect x="558" y="385" width="1" height="80" fill="#fff"/><rect x="559" y="385" width="1" height="80" fill="#8a8a8a"/>
<rect x="676" y="385" width="1" height="80" fill="#fff"/><rect x="677" y="385" width="1" height="80" fill="#8a8a8a"/>
<rect x="794" y="385" width="1" height="80" fill="#fff"/><rect x="795" y="385" width="1" height="80" fill="#8a8a8a"/>
<rect x="801" y="384" width="1" height="81" fill="#808080"/></g>
<text transform="translate(9.0,403) scale(0.94,1)" stroke="#000" stroke-width="0.15" font-weight="bold">Sensor</text>
<text transform="translate(9.0,419) scale(0.976,1)" stroke="#000" stroke-width="0.15" font-weight="bold">MinWert</text>
<text transform="translate(9.0,435) scale(0.989,1)" stroke="#000" stroke-width="0.15" font-weight="bold">MaxWert</text>
<text transform="translate(9.0,451) scale(0.965,1)" stroke="#000" stroke-width="0.15" font-weight="bold">Durchschnitt</text>
<text transform="translate(9.0,467) scale(1.06,1)" stroke="#000" stroke-width="0.15" font-weight="bold">25.07. 23:55</text>
<text transform="translate(95.4,403) scale(0.992,1)" stroke="#000" stroke-width="0.15" font-weight="bold">Temp. A.</text>
<text transform="translate(187.0,403) scale(0.852,1)" stroke="#000" stroke-width="0.15" font-weight="bold">°C</text>
<text transform="translate(101.6,419) scale(0.89,1)" stroke="#000" stroke-width="0.15">06:05</text>
<text transform="translate(178.4,419) scale(0.89,1)" stroke="#000" stroke-width="0.15">13.6</text>
<text transform="translate(101.6,435) scale(0.89,1)" stroke="#000" stroke-width="0.15">12:40</text>
<text transform="translate(178.4,435) scale(0.89,1)" stroke="#000" stroke-width="0.15">33.0</text>
<text transform="translate(172.5,451) scale(0.89,1)" stroke="#000" stroke-width="0.15">23.15</text>
<text transform="translate(175.12,467) scale(1.03,1)" stroke="#000" stroke-width="0.15" font-weight="bold">20.9</text>
<text transform="translate(212.8,403) scale(0.989,1)" stroke="#000" stroke-width="0.15" font-weight="bold">Feuchte A.</text>
<text transform="translate(307.5,403) scale(0.828,1)" stroke="#000" stroke-width="0.15" font-weight="bold">%</text>
<text transform="translate(218.6,419) scale(0.89,1)" stroke="#000" stroke-width="0.15">16:40</text>
<text transform="translate(304.3,419) scale(0.89,1)" stroke="#000" stroke-width="0.15">29</text>
<text transform="translate(218.6,435) scale(0.89,1)" stroke="#000" stroke-width="0.15">06:35</text>
<text transform="translate(304.3,435) scale(0.89,1)" stroke="#000" stroke-width="0.15">76</text>
<text transform="translate(304.3,451) scale(0.89,1)" stroke="#000" stroke-width="0.15">52</text>
<text transform="translate(216.0,467) scale(0.89,1)" stroke="#000" stroke-width="0.15">9.84 g/m³</text>
<text transform="translate(302.42,467) scale(1.03,1)" stroke="#000" stroke-width="0.15" font-weight="bold">54</text>
<text transform="translate(331.0,403) scale(0.957,1)" stroke="#000" stroke-width="0.15" font-weight="bold">Luftdruck</text>
<text transform="translate(412.7,403) scale(0.954,1)" stroke="#000" stroke-width="0.15" font-weight="bold">hPa</text>
<text transform="translate(336.6,419) scale(0.89,1)" stroke="#000" stroke-width="0.15">07:40</text>
<text transform="translate(401.49,419) scale(0.89,1)" stroke="#000" stroke-width="0.15">1012.2</text>
<text transform="translate(336.6,435) scale(0.89,1)" stroke="#000" stroke-width="0.15">15:40</text>
<text transform="translate(401.49,435) scale(0.89,1)" stroke="#000" stroke-width="0.15">1020.5</text>
<text transform="translate(330.7,451) scale(0.934,1)" stroke="#000" stroke-width="0.15">^2.8hPa/h</text>
<text transform="translate(401.49,451) scale(0.89,1)" stroke="#000" stroke-width="0.15">1016.9</text>
<text transform="translate(331.0,467) scale(0.89,1)" stroke="#000" stroke-width="0.15">bewölkt</text>
<text transform="translate(396.35,467) scale(1.03,1)" stroke="#000" stroke-width="0.15" font-weight="bold">1017.8</text>
<text transform="translate(448.5,403) scale(0.974,1)" stroke="#000" stroke-width="0.15" font-weight="bold">Wind</text>
<text transform="translate(523.5,403) scale(1.0,1)" stroke="#000" stroke-width="0.15" font-weight="bold">km/h</text>
<text transform="translate(448.8,419) scale(0.831,1)" stroke="#000" stroke-width="0.15">Ø 10 min.</text>
<text transform="translate(537.4,419) scale(0.89,1)" stroke="#000" stroke-width="0.15">0.7</text>
<text transform="translate(454.6,435) scale(0.89,1)" stroke="#000" stroke-width="0.15">15:00</text>
<text transform="translate(516.6,435) scale(0.89,1)" stroke="#000" stroke-width="0.15">NW 8.2</text>
<text transform="translate(537.4,451) scale(0.89,1)" stroke="#000" stroke-width="0.15">2.3</text>
<text transform="translate(455.0,467) scale(0.89,1)" stroke="#000" stroke-width="0.15">0 Bft S</text>
<text transform="translate(535.08,467) scale(1.03,1)" stroke="#000" stroke-width="0.15" font-weight="bold">0.6</text>
<text transform="translate(566.5,403) scale(0.981,1)" stroke="#000" stroke-width="0.15" font-weight="bold">Windböen</text>
<text transform="translate(641.5,403) scale(1.0,1)" stroke="#000" stroke-width="0.15" font-weight="bold">km/h</text>
<text transform="translate(566.8,419) scale(0.831,1)" stroke="#000" stroke-width="0.15">Ø 10 min.</text>
<text transform="translate(655.4,419) scale(0.89,1)" stroke="#000" stroke-width="0.15">2.1</text>
<text transform="translate(572.6,435) scale(0.89,1)" stroke="#000" stroke-width="0.15">15:00</text>
<text transform="translate(628.7,435) scale(0.89,1)" stroke="#000" stroke-width="0.15">NW 20.9</text>
<text transform="translate(655.4,451) scale(0.89,1)" stroke="#000" stroke-width="0.15">3.6</text>
<text transform="translate(573.0,467) scale(0.89,1)" stroke="#000" stroke-width="0.15">1 Bft S</text>
<text transform="translate(653.08,467) scale(1.03,1)" stroke="#000" stroke-width="0.15" font-weight="bold">1.6</text>
<text transform="translate(684.8,403) scale(0.994,1)" stroke="#000" stroke-width="0.15" font-weight="bold">Regen</text>
<text transform="translate(766.7,403) scale(1.053,1)" stroke="#000" stroke-width="0.15" font-weight="bold">l/m²</text>
<text transform="translate(690.6,435) scale(0.89,1)" stroke="#000" stroke-width="0.15">00:00</text>
<text transform="translate(773.4,435) scale(0.89,1)" stroke="#000" stroke-width="0.15">0.0</text>
<text transform="translate(684.8,451) scale(0.815,1)" stroke="#000" stroke-width="0.15">Gesamt:</text>
<text transform="translate(773.4,451) scale(0.89,1)" stroke="#000" stroke-width="0.15">0.0</text>
<text transform="translate(688.0,467) scale(0.89,1)" stroke="#000" stroke-width="0.15">0.0 l/m²</text>
<text transform="translate(771.08,467) scale(1.03,1)" stroke="#000" stroke-width="0.15" font-weight="bold">0.0</text>
</svg></body></html>
